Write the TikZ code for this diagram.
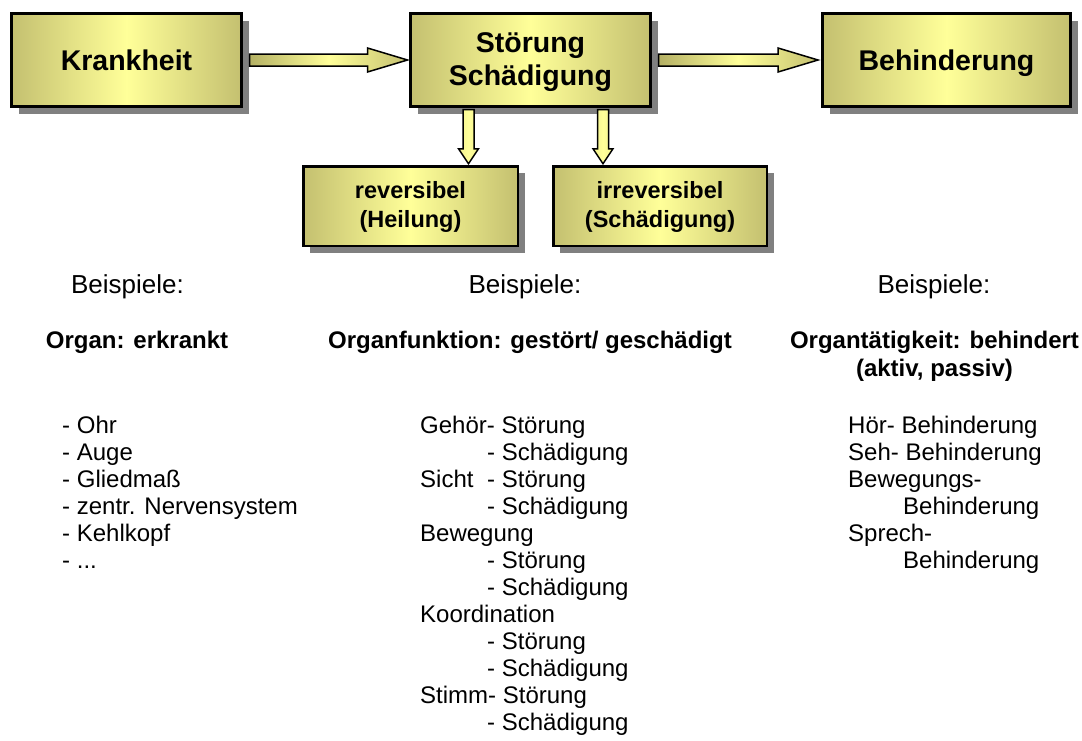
\documentclass[tikz,border=0pt]{standalone}
\usepackage{fontspec}
\setmainfont{Liberation Sans}
\usetikzlibrary{calc,shadows}
\definecolor{boxdark}{RGB}{196,192,112}
\definecolor{boxlight}{RGB}{255,255,153}
\definecolor{arrowdark}{RGB}{180,176,100}
\definecolor{shadowgray}{RGB}{128,128,128}

\begin{document}
\begin{tikzpicture}[x=1pt,y=-1pt,
  shadowed/.style={drop shadow={shadow xshift=7pt,shadow yshift=-7pt,fill=shadowgray,opacity=1}},
  stage/.style={shadowed,draw=black,line width=3pt,left color=boxdark,right color=boxdark,
    middle color=boxlight,inner sep=0pt,align=center,minimum height=93pt,
    font=\bfseries\fontsize{28.5}{33}\selectfont},
  outcome/.style={shadowed,draw=black,line width=2.5pt,left color=boxdark,right color=boxdark,
    middle color=boxlight,inner sep=0pt,align=center,minimum height=79.5pt,
    font=\bfseries\fontsize{23.5}{29}\selectfont},
  harrow/.style={draw=black,line width=1.5pt,line join=miter,left color=arrowdark,
    right color=boxdark,middle color=boxlight},
  varrow/.style={draw=black,line width=1.5pt,line join=miter,left color=boxlight!80!boxdark,
    right color=boxlight!80!boxdark,middle color=boxlight},
  head/.style={inner sep=0pt,font=\fontsize{26}{30}\selectfont},
  topic/.style={inner sep=0pt,font=\bfseries\fontsize{24}{28}\selectfont},
  item/.style={inner sep=0pt,anchor=base west,font=\fontsize{24}{27}\selectfont}]
\useasboundingbox (0,0) rectangle (1082,740);

% main stages
\node[stage,minimum width=230pt,text depth=-1pt] (k) at (126.5,60) {Krankheit};
\node[stage,minimum width=240pt,text depth=2pt] (s) at (530.5,60) {Störung\\Schädigung};
\node[stage,minimum width=248pt,text depth=-1pt] (b) at (946.5,60) {Behinderung};

% outcomes of the impairment
\node[outcome,minimum width=214.5pt,text depth=4pt] (r) at (410.5,206) {reversibel\\(Heilung)};
\node[outcome,minimum width=213.5pt,text depth=4pt] (i) at (660,206) {irreversibel\\(Schädigung)};

% block arrows between the stages
\path[harrow] ($(k.east)+(6.5,-6)$) -- ($(s.west)+(-41.5,-6)$) -- ($(s.west)+(-41.5,-12)$)
  -- ($(s.west)+(-1.5,0)$) -- ($(s.west)+(-41.5,12)$) -- ($(s.west)+(-41.5,6)$)
  -- ($(k.east)+(6.5,6)$) -- cycle;
\path[harrow] ($(s.east)+(6.5,-6)$) -- ($(b.west)+(-43,-6)$) -- ($(b.west)+(-43,-12)$)
  -- ($(b.west)+(-3,0)$) -- ($(b.west)+(-43,12)$) -- ($(b.west)+(-43,6)$)
  -- ($(s.east)+(6.5,6)$) -- cycle;

% block arrows down to the outcomes
\path[varrow] ($(s.south)+(-67.5,1.5)$) -- ($([xshift=-67.5pt]s.south |- r.north)+(0,-16.25)$)
  -- ($([xshift=-72pt]s.south |- r.north)+(0,-16.25)$) -- ($([xshift=-62pt]s.south |- r.north)+(0,-1.25)$)
  -- ($([xshift=-52pt]s.south |- r.north)+(0,-16.25)$) -- ($([xshift=-56.5pt]s.south |- r.north)+(0,-16.25)$)
  -- ($(s.south)+(-56.5,1.5)$) -- cycle;
\path[varrow] ($(s.south)+(67,1.5)$) -- ($([xshift=67pt]s.south |- i.north)+(0,-16.25)$)
  -- ($([xshift=62.5pt]s.south |- i.north)+(0,-16.25)$) -- ($([xshift=72.5pt]s.south |- i.north)+(0,-1.25)$)
  -- ($([xshift=82.5pt]s.south |- i.north)+(0,-16.25)$) -- ($([xshift=78pt]s.south |- i.north)+(0,-16.25)$)
  -- ($(s.south)+(78,1.5)$) -- cycle;

% examples
\node[head,anchor=base] (e1) at (127.5,293) {Beispiele:};
\node[head,anchor=base] (e2) at (525,293) {Beispiele:};
\node[head,anchor=base] (e3) at (934,293) {Beispiele:};

\node[topic,anchor=base] (t1) at (137,348) {Organ: erkrankt};
\node[topic,anchor=base] (t2) at (530,348) {Organfunktion: gestört/ geschädigt};
\node[topic,anchor=base] (t3) at (934.5,348) {Organtätigkeit: behindert};
\node[topic,anchor=base] (t4) at (934.5,376) {(aktiv, passiv)};

% organs
\node[item] (o1) at (62,433) {- Ohr};
\node[item] (o2) at (62,460) {- Auge};
\node[item] (o3) at (62,487) {- Gliedmaß};
\node[item] (o4) at (62,514) {- zentr. Nervensystem};
\node[item] (o5) at (62,541) {- Kehlkopf};
\node[item] (o6) at (62,568) {- ...};

% functions
\node[item] (f1) at (420,433) {Gehör- Störung};
\node[item] (f2) at (487,460) {- Schädigung};
\node[item] (f3) at (420,487) {Sicht};
\node[item] (f4) at (487,487) {- Störung};
\node[item] (f5) at (487,514) {- Schädigung};
\node[item] (f6) at (420,541) {Bewegung};
\node[item] (f7) at (487,568) {- Störung};
\node[item] (f8) at (487,595) {- Schädigung};
\node[item] (f9) at (420,622) {Koordination};
\node[item] (f10) at (487,649) {- Störung};
\node[item] (f11) at (487,676) {- Schädigung};
\node[item] (f12) at (420,703) {Stimm- Störung};
\node[item] (f13) at (487,730) {- Schädigung};

% disabilities
\node[item] (d1) at (848,433) {Hör- Behinderung};
\node[item] (d2) at (848,460) {Seh- Behinderung};
\node[item] (d3) at (848,487) {Bewegungs-};
\node[item] (d4) at (903,514) {Behinderung};
\node[item] (d5) at (848,541) {Sprech-};
\node[item] (d6) at (903,568) {Behinderung};
\end{tikzpicture}
\end{document}
